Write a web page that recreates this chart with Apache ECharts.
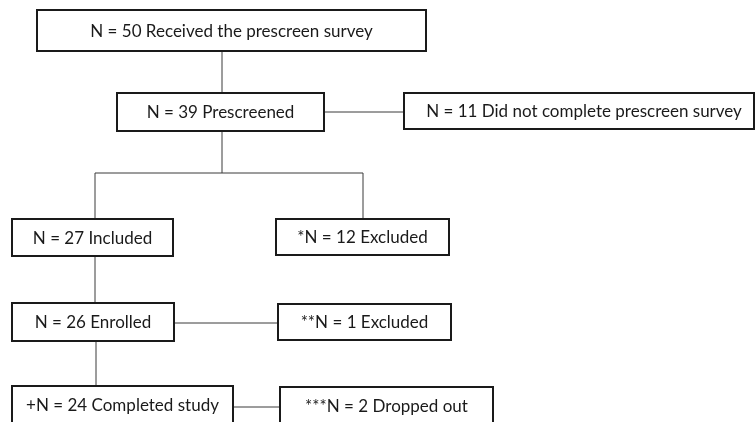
<!DOCTYPE html>
<html>
<head>
<meta charset="utf-8">
<script src="https://cdn.jsdelivr.net/npm/echarts@6/dist/echarts.min.js"></script>
<style>
  html, body { margin: 0; padding: 0; background: #fff; }
  #chart { width: 756px; height: 422px; }
</style>
</head>
<body>
<div id="chart"></div>
<script>
// flowchart content
var stepMarks  = ['', '', '', '', '*', '', '**', '+', '***'];
var stepCounts = [50, 39, 11, 27, 12, 26, 1, 24, 2];
var stepLabels = [
  'Received the prescreen survey',
  'Prescreened',
  'Did not complete prescreen survey',
  'Included',
  'Excluded',
  'Enrolled',
  'Excluded',
  'Completed study',
  'Dropped out'
];

// box layout [x1, y1, x2, y2]
var boxes = [
  [37, 10, 426, 51],
  [117, 93, 324, 131],
  [404, 93, 754, 129],
  [12, 219, 173, 256],
  [276, 219, 449, 255],
  [12, 303, 174, 341],
  [278, 304, 451, 340],
  [12, 386, 233, 426],
  [280, 387, 493, 426]
];
// connector segments
var links = [
  [222, 51, 222, 93],
  [324, 112, 404, 112],
  [222, 131, 222, 173],
  [95, 173, 363, 173],
  [95, 173, 95, 219],
  [363, 173, 363, 219],
  [95, 256, 95, 303],
  [174, 323, 278, 323],
  [96, 341, 96, 386],
  [233, 407, 280, 407]
];

var chart = echarts.init(document.getElementById('chart'));
var elements = [];

links.forEach(function (l) {
  elements.push({
    type: 'line',
    shape: { x1: l[0], y1: l[1], x2: l[2], y2: l[3] },
    style: { stroke: '#3a3a3a', lineWidth: 1 }
  });
});

boxes.forEach(function (b, i) {
  elements.push({
    type: 'rect',
    shape: { x: b[0], y: b[1], width: b[2] - b[0], height: b[3] - b[1] },
    style: { fill: '#fff', stroke: '#1a1a1a', lineWidth: 2 }
  });
  // boxes cut by the bottom edge keep their text near the top
  var cy = b[3] > 422 ? (b[1] + 20) : (b[1] + b[3]) / 2 + 1;
  var cx = (b[0] + b[2]) / 2 + (i === 2 ? 5 : 0);
  elements.push({
    type: 'text',
    x: cx,
    y: cy,
    style: {
      text: stepMarks[i] + 'N = ' + stepCounts[i] + ' ' + stepLabels[i],
      fill: '#1a1a1a',
      font: '17px Lato',
      textAlign: 'center',
      textVerticalAlign: 'middle'
    }
  });
});

chart.setOption({
  backgroundColor: '#fff',
  animation: false,
  graphic: { elements: elements }
});
</script>
</body>
</html>
